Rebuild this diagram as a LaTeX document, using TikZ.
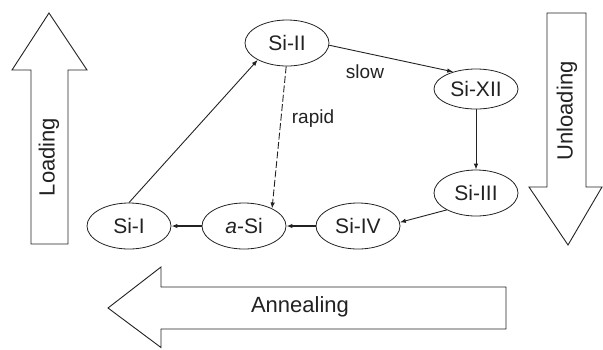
\documentclass[tikz,border=0pt]{standalone}
\usepackage{fontspec}
\setmainfont{Liberation Sans}
\usetikzlibrary{shapes.geometric,arrows.meta}
\definecolor{ink}{HTML}{222222}
\tikzset{
  phase/.style={ellipse, draw=ink, line width=0.8pt, minimum width=84pt, minimum height=46pt, inner sep=0pt, text=ink, font=\fontsize{21}{21}\selectfont},
  conn/.style={draw=ink, line width=0.9pt, -{Latex[length=6pt,width=4.5pt]}},
  blockarrow/.style={draw=ink, line width=0.9pt, fill=white, line join=miter},
  big/.style={text=ink, font=\fontsize{22}{22}\selectfont},
  lbl/.style={text=ink, font=\fontsize{19}{19}\selectfont}
}
\begin{document}
\begin{tikzpicture}[x=1pt,y=-1pt]
\useasboundingbox (0,0) rectangle (603,349);
% block arrows
\draw[blockarrow] (31,244) -- (31,70) -- (12,70) -- (49,13) -- (87,70) -- (68,70) -- (68,244) -- cycle;
\node[big, rotate=90] (loading) at (49,157) {Loading};
\draw[blockarrow] (547,13) -- (586,13) -- (586,187) -- (602,187) -- (568,245) -- (529,187) -- (547,187) -- cycle;
\node[big, rotate=90] (unloading) at (567,111) {Unloading};
\draw[blockarrow] (506,287) -- (161,287) -- (161,267) -- (108,308) -- (161,347.5) -- (161,329) -- (506,329) -- cycle;
\node[big] (annealing) at (300,307) {Annealing};
% phases
\node[phase] (sii) at (287,43) {Si-II};
\node[phase, minimum height=40pt] (sixii) at (476,89) {Si-XII};
\node[phase] (siiii) at (476,193) {Si-III};
\node[phase] (si) at (129,226) {Si-I};
\node[phase] (asi) at (244,226) {\textit{a}-Si};
\node[phase] (siv) at (358,226) {Si-IV};
% connectors
\draw[conn] (si.90) -- (sii.210);
\draw[conn, dash pattern=on 7pt off 2.5pt] (sii.268) -- (asi.32);
\draw[conn] (sii.-3) -- (sixii.143);
\draw[conn] (sixii.south) -- (siiii.north);
\draw[conn] (siiii.210) -- (siv.5);
\draw[conn, line width=1.2pt] (siv.west) -- (asi.east);
\draw[conn, line width=1.2pt] (asi.west) -- (si.east);
% labels
\node[lbl] (slow) at (365,72) {slow};
\node[lbl] (rapid) at (313,119) {rapid};
\end{tikzpicture}
\end{document}
